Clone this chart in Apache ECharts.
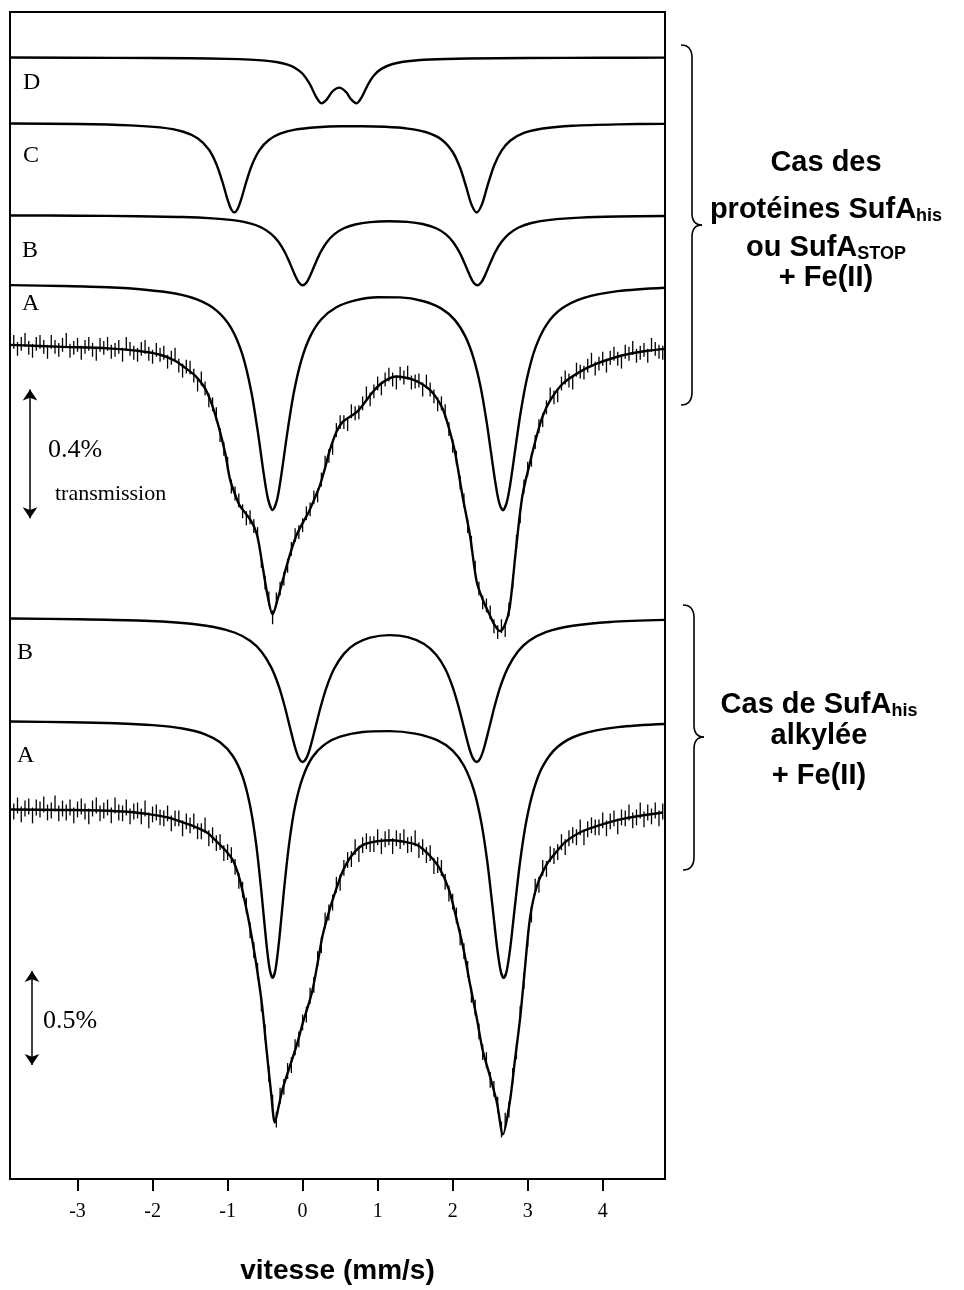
<!DOCTYPE html>
<html>
<head>
<meta charset="utf-8">
<script src="https://cdn.jsdelivr.net/npm/echarts@6/dist/echarts.min.js"></script>
<style>
  html, body { margin: 0; padding: 0; background: #fff; }
  #chart { width: 964px; height: 1290px; }
</style>
</head>
<body>
<div id="chart"></div>
<script>
// velocity ticks (mm/s)
var tickValues = [-3, -2, -1, 0, 1, 2, 3, 4];

// ---- upper block: SufA(his) / SufA(STOP) + Fe(II) ----
// fitted sub-spectra, [velocity, stacked transmission (arb. offset units)]
var upperD = [[-3.9,1132],[-2.5,1131.7],[-1.5,1131.3],[-1.0,1130.7],[-0.7,1129.9],[-0.5,1128.9],[-0.35,1127.5],[-0.2,1124.8],[-0.1,1121.5],[0.0,1115.6],[0.1,1104.6],[0.18,1092.3],[0.25,1085.8],[0.32,1089.5],[0.4,1098],[0.49,1101.7],[0.58,1097.1],[0.65,1089.5],[0.72,1085.8],[0.79,1092.3],[0.87,1104.6],[0.95,1113.9],[1.05,1120.6],[1.2,1125.5],[1.4,1128.3],[1.7,1130],[2.2,1131],[3.0,1131.6],[4.0,1131.8],[4.83,1131.9]];
var upperC = [[-3.9,1065.4],[-3.0,1064.9],[-2.3,1063.6],[-1.9,1061.5],[-1.6,1057.4],[-1.4,1050.6],[-1.25,1039.2],[-1.15,1024.6],[-1.07,1006.9],[-1.0,988.6],[-0.95,978.6],[-0.91,975.7],[-0.87,978.6],[-0.82,988.5],[-0.75,1006.8],[-0.67,1024.5],[-0.57,1039.1],[-0.45,1048.8],[-0.3,1055.2],[-0.1,1059.3],[0.2,1061.6],[0.5,1062.6],[0.8,1062.7],[1.1,1062.1],[1.4,1060.3],[1.65,1056.6],[1.85,1049.3],[2.0,1036.7],[2.1,1020.5],[2.18,1001.5],[2.25,983.8],[2.32,975.6],[2.39,983.8],[2.46,1001.5],[2.55,1022.6],[2.65,1037.9],[2.77,1048.3],[2.95,1055.9],[3.2,1060.4],[3.6,1063.2],[4.2,1064.6],[4.83,1065.1]];
var upperB = [[-3.9,972.6],[-3.0,972.4],[-2.2,971.9],[-1.6,971.1],[-1.2,969.7],[-0.9,967.6],[-0.7,964.6],[-0.55,960.5],[-0.42,954.1],[-0.32,945.9],[-0.24,936],[-0.17,924.5],[-0.1,912],[-0.05,905],[0,902.2],[0.05,904.8],[0.1,911.8],[0.17,924.2],[0.24,935.6],[0.32,945.4],[0.42,953.5],[0.55,959.7],[0.7,963.5],[0.9,965.9],[1.15,966.8],[1.4,966.1],[1.6,964],[1.78,959.7],[1.91,953.5],[2.01,945.4],[2.09,935.6],[2.16,924.2],[2.23,911.8],[2.28,904.8],[2.33,902.2],[2.38,904.9],[2.43,911.9],[2.5,924.4],[2.57,936],[2.65,945.8],[2.75,954.1],[2.88,960.5],[3.05,965],[3.3,968.2],[3.7,970.4],[4.2,971.5],[4.83,972.1]];
var upperA = [[-3.9,902.3],[-3.2,901.4],[-2.6,900.1],[-2.1,897.7],[-1.7,893.8],[-1.4,887.6],[-1.15,876.8],[-0.95,858.7],[-0.8,831.6],[-0.68,793.2],[-0.59,750.6],[-0.52,712.8],[-0.46,686],[-0.4,675.3],[-0.34,685.9],[-0.28,712.6],[-0.21,750.2],[-0.12,792.6],[-0.02,825.6],[0.1,850.3],[0.25,867.8],[0.45,879.9],[0.7,886.9],[1.0,890.1],[1.3,889.9],[1.6,886.3],[1.85,878.6],[2.03,867],[2.17,850.3],[2.28,828.2],[2.37,800.4],[2.45,765.5],[2.51,734],[2.57,702.5],[2.62,682.6],[2.67,675.1],[2.72,682.7],[2.77,702.7],[2.83,734.2],[2.9,771],[2.99,808],[3.1,838.4],[3.25,862.2],[3.45,878.4],[3.75,889.5],[4.2,896.2],[4.83,899.7]];
var upperFit = [[-3.9,842],[-3.2,840],[-2.6,838.5],[-2.2,836],[-1.9,832],[-1.7,826],[-1.55,818],[-1.42,810],[-1.3,798],[-1.2,780],[-1.11,757],[-1.03,732],[-0.97,707],[-0.9,691],[-0.84,680],[-0.77,673],[-0.71,667],[-0.65,659],[-0.6,648],[-0.53,617],[-0.47,590],[-0.4,570],[-0.33,586],[-0.27,603],[-0.17,630],[-0.08,650],[0.0,662],[0.08,673],[0.16,687],[0.23,700],[0.3,718],[0.36,735],[0.45,754],[0.53,764],[0.62,769],[0.72,774],[0.82,783],[0.93,794],[1.03,802],[1.15,808],[1.25,810],[1.36,809],[1.47,807],[1.58,803],[1.69,797],[1.78,789],[1.87,777],[1.95,758],[2.03,734],[2.13,690],[2.23,650],[2.32,603],[2.4,585],[2.49,570],[2.56,559],[2.63,553],[2.7,560],[2.76,577],[2.85,640],[2.93,690],[3.03,723],[3.12,750],[3.2,770],[3.3,786],[3.47,803],[3.7,815],[3.92,823],[4.15,829],[4.36,833],[4.6,836],[4.83,838]];
// measured counts, one value per channel
var upperData = [
  845,838,843,847,839,836,843,845,840,835,
  845,840,837,842,847,836,839,842,834,840,
  843,837,833,842,839,843,835,837,840,832,
  843,838,834,832,838,840,833,830,837,832,
  834,825,829,832,821,816,820,819,811,802,
  808,798,786,782,772,751,737,722,699,692,
  685,674,667,668,659,651,624,602,586,567,
  585,596,606,619,636,650,653,660,672,676,
  688,690,706,723,730,738,756,764,764,762,
  775,773,774,783,793,787,795,803,798,807,
  812,807,804,813,809,814,804,805,806,797,
  805,797,790,782,783,775,757,740,728,703,
  685,659,642,617,596,582,579,572,558,552,
  558,554,575,603,643,669,699,717,726,744,
  760,766,779,792,789,791,803,809,806,804,
  817,815,814,821,827,818,823,828,821,829,
  833,828,825,835,833,839,831,834,837,831,
  842,838,835,834
];

// ---- lower block: alkylated SufA(his) + Fe(II) ----
var lowerB = [[-3.9,565.8],[-3.0,565.1],[-2.2,563.8],[-1.6,561.3],[-1.2,557.5],[-0.9,551.4],[-0.7,543.3],[-0.55,532.5],[-0.42,516.7],[-0.32,498],[-0.24,477.5],[-0.17,456.3],[-0.1,435.6],[-0.05,425],[0,421],[0.05,424.8],[0.1,435.2],[0.17,455.6],[0.24,476.5],[0.32,496.6],[0.42,515],[0.55,530.1],[0.7,540],[0.9,546.5],[1.16,549],[1.4,546.9],[1.62,540],[1.78,529.1],[1.9,515],[2.0,496.6],[2.08,476.5],[2.15,455.6],[2.22,435.2],[2.27,424.8],[2.32,421],[2.37,425],[2.42,435.6],[2.49,456.3],[2.56,477.5],[2.64,498],[2.74,516.7],[2.87,532.5],[3.02,543.3],[3.25,552.3],[3.6,558.5],[4.1,562.3],[4.83,564.4]];
var lowerA = [[-3.9,461.8],[-3.1,461.1],[-2.5,460],[-2.0,458.1],[-1.6,454.7],[-1.3,448.9],[-1.1,440.8],[-0.93,427],[-0.8,406.2],[-0.7,376.8],[-0.62,338.6],[-0.55,290.6],[-0.49,243.3],[-0.44,212.2],[-0.4,203],[-0.36,212],[-0.31,243],[-0.25,290.4],[-0.18,338.3],[-0.1,376.5],[0.0,405],[0.13,425.7],[0.3,439],[0.5,446.5],[0.8,451.2],[1.15,452.1],[1.5,449.6],[1.8,442.7],[2.0,432.4],[2.15,417.2],[2.28,393],[2.38,360.6],[2.46,321.1],[2.53,275.7],[2.59,234.9],[2.64,210],[2.68,203],[2.72,210],[2.77,234.9],[2.83,275.7],[2.9,321.1],[2.98,360.6],[3.08,393],[3.2,416.6],[3.4,436.3],[3.7,448.7],[4.2,456.1],[4.83,459.3]];
var lowerFit = [[-3.9,373],[-3.2,372.5],[-2.7,372],[-2.3,370.5],[-2.03,368],[-1.8,365],[-1.6,360],[-1.45,356],[-1.28,350],[-1.15,341],[-1.01,330],[-0.93,322],[-0.84,303],[-0.75,273],[-0.68,245],[-0.61,213],[-0.54,175],[-0.48,130],[-0.42,87],[-0.37,57],[-0.32,73],[-0.27,90],[-0.2,107],[-0.13,123],[-0.06,140],[0.0,157],[0.07,174],[0.13,190],[0.2,218],[0.27,247],[0.36,272],[0.45,293],[0.53,310],[0.65,326],[0.8,337],[1.0,341],[1.2,342],[1.38,340],[1.53,337],[1.7,326],[1.83,313],[1.95,292],[2.05,263],[2.15,230],[2.23,197],[2.32,163],[2.4,130],[2.5,103],[2.59,77],[2.67,45],[2.76,77],[2.83,120],[2.9,163],[2.96,210],[3.03,263],[3.12,295],[3.25,317],[3.38,330],[3.5,340],[3.7,350],[3.95,357],[4.3,364],[4.8,370]];
var lowerData = [
  371,377,368,374,376,367,375,373,378,370,
  372,379,369,374,370,375,367,373,376,371,
  366,374,377,369,372,375,367,377,370,369,
  375,366,371,372,366,374,362,368,370,365,
  364,369,359,364,364,354,361,357,361,351,
  351,357,344,347,339,340,329,330,327,315,
  301,292,276,251,231,210,177,148,106,77,
  60,84,93,109,115,133,141,158,166,185,
  196,222,236,261,269,279,297,299,314,322,
  323,335,328,337,341,338,338,345,336,343,
  345,336,344,341,345,337,338,344,332,335,
  327,329,316,317,314,300,288,280,266,244,
  230,212,186,173,149,128,120,100,91,75,
  50,59,70,104,129,167,200,242,267,295,
  297,314,313,328,326,330,340,335,344,347,
  345,355,345,353,357,355,355,362,354,361,
  364,356,365,364,370,362,365,372,363,370,
  366,372,364,371
];

// channel calibration and error bar half-heights
var channelStart = -3.85;
var channelStep = 0.05;
var upperErr = 7;
var lowerErr = 8;

// transmission scale bars: velocity, from, to
var scaleBars = [[-3.633, 667, 797], [-3.607, 115, 210]];

function withChannels(values) {
    return values.map(function (v, i) {
        return [+(channelStart + i * channelStep).toFixed(2), v];
    });
}

function errorBars(err) {
    return function (params, api) {
        var x = api.value(0), y = api.value(1);
        var p1 = api.coord([x, y + err]);
        var p2 = api.coord([x, y - err]);
        return {
            type: 'line',
            shape: { x1: p1[0], y1: p1[1], x2: p2[0], y2: p2[1] },
            style: { stroke: '#000', lineWidth: 1.3 }
        };
    };
}

function curve(name, data) {
    return {
        name: name,
        type: 'line',
        data: data,
        smooth: 0.3,
        showSymbol: false,
        symbol: 'none',
        z: 3,
        lineStyle: { color: '#000', width: 2.4 }
    };
}

var serif = '"Liberation Serif", "DejaVu Serif", serif';
var sans = '"Liberation Sans", Arial, sans-serif';

function letter(t, x, y, size) {
    return {
        type: 'text', x: x, y: y,
        style: { text: t, fontFamily: serif, fontSize: size, fill: '#000', textVerticalAlign: 'middle' }
    };
}

function rightText(t, x, y) {
    return {
        type: 'text', x: x, y: y,
        style: {
            text: t, fontFamily: sans, fontWeight: 'bold', fontSize: 29, fill: '#000',
            textAlign: 'center', textVerticalAlign: 'middle',
            rich: {
                s: { fontFamily: sans, fontWeight: 'bold', fontSize: 18, fill: '#000', padding: [12, 0, 0, 0] }
            }
        }
    };
}

function brace(x0, xv, xt, top, mid, bottom) {
    var st = { stroke: '#000', lineWidth: 1.6, fill: null };
    return {
        type: 'group',
        children: [
            { type: 'bezierCurve', shape: { x1: x0, y1: top, cpx1: xv, cpy1: top, x2: xv, y2: top + 13 }, style: st },
            { type: 'line', shape: { x1: xv, y1: top + 13, x2: xv, y2: mid - 12 }, style: st },
            { type: 'bezierCurve', shape: { x1: xv, y1: mid - 12, cpx1: xv, cpy1: mid, x2: xt, y2: mid }, style: st },
            { type: 'bezierCurve', shape: { x1: xt, y1: mid, cpx1: xv, cpy1: mid, x2: xv, y2: mid + 12 }, style: st },
            { type: 'line', shape: { x1: xv, y1: mid + 12, x2: xv, y2: bottom - 13 }, style: st },
            { type: 'bezierCurve', shape: { x1: xv, y1: bottom - 13, cpx1: xv, cpy1: bottom, x2: x0, y2: bottom }, style: st }
        ]
    };
}

var chart = echarts.init(document.getElementById('chart'));

var lineSeries = [
    curve('D', upperD), curve('C', upperC), curve('B', upperB), curve('A', upperA),
    curve('fit1', upperFit), curve('B2', lowerB), curve('A2', lowerA), curve('fit2', lowerFit)
];
lineSeries[3].markLine = {
    silent: true,
    symbol: ['arrow', 'arrow'],
    symbolSize: 11,
    label: { show: false },
    lineStyle: { color: '#000', width: 1.5, type: 'solid' },
    data: scaleBars.map(function (b) {
        return [{ coord: [b[0], b[1]] }, { coord: [b[0], b[2]] }];
    })
};

chart.setOption({
    animation: false,
    backgroundColor: '#fff',
    grid: { left: 10, top: 12, width: 655, height: 1178, show: true, borderColor: '#000', borderWidth: 2 },
    xAxis: {
        type: 'value', min: -3.9, max: 4.83,
        name: 'vitesse (mm/s)', nameLocation: 'middle', nameGap: 78,
        nameTextStyle: { fontFamily: sans, fontWeight: 'bold', fontSize: 28, color: '#000' },
        axisLine: { show: true, lineStyle: { color: '#000', width: 2 } },
        axisTick: { show: true, customValues: tickValues, length: 12, lineStyle: { color: '#000', width: 2 } },
        axisLabel: { customValues: tickValues, margin: 23, fontFamily: serif, fontSize: 20, color: '#000' },
        splitLine: { show: false }
    },
    yAxis: { type: 'value', min: 0, max: 1178, show: false, splitLine: { show: false } },
    series: [
        { type: 'custom', name: 'data1', renderItem: errorBars(upperErr), data: withChannels(upperData), z: 2 },
        { type: 'custom', name: 'data2', renderItem: errorBars(lowerErr), data: withChannels(lowerData), z: 2 }
    ].concat(lineSeries),
    graphic: [
        letter('D', 23, 83, 24), letter('C', 23, 156, 24), letter('B', 22, 251, 24), letter('A', 22, 304, 24),
        letter('B', 17, 653, 24), letter('A', 17, 756, 24),
        letter('0.4%', 48, 450, 26), letter('transmission', 55, 494, 22), letter('0.5%', 43, 1021, 26),
        brace(681, 692, 702, 45, 225, 405),
        brace(683, 694, 704, 605, 737, 870),
        rightText('Cas des', 826, 163),
        rightText('protéines SufA{s|his}', 826, 210),
        rightText('ou SufA{s|STOP}', 826, 248),
        rightText('+ Fe(II)', 826, 278),
        rightText('Cas de SufA{s|his}', 819, 705),
        rightText('alkylée', 819, 736),
        rightText('+ Fe(II)', 819, 776)
    ]
});
</script>
</body>
</html>
